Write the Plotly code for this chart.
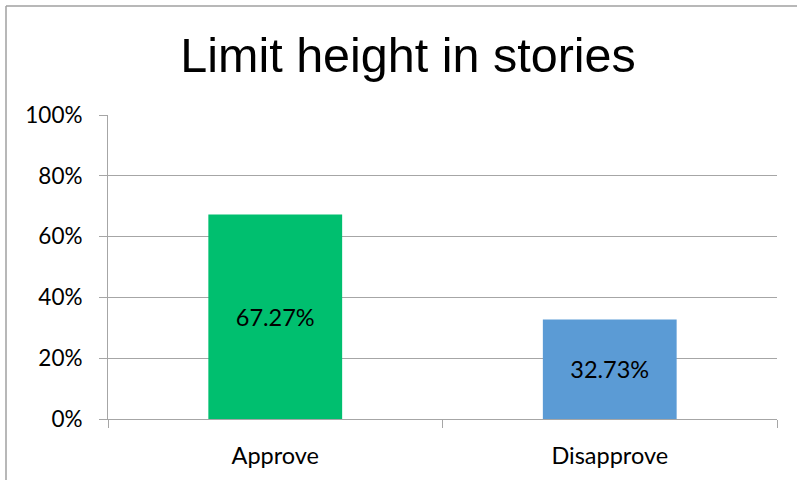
import plotly.graph_objects as go

categories = ["Approve", "Disapprove"]
values = [67.27, 32.73]
labels = ["67.27%", "32.73%"]
colors = ["#00BF6F", "#5B9BD5"]
tick_vals = [0, 20, 40, 60, 80, 100]
tick_text = ["0%", "20%", "40%", "60%", "80%", "100%"]

W, H = 797, 480
ML, MR, MT, MB = 108, 20, 115, 61
pw, ph = W - ML - MR, H - MT - MB

fig = go.Figure()
fig.add_trace(go.Bar(
    x=categories, y=values, text=labels, textposition="inside",
    insidetextanchor="middle", textangle=0,
    textfont=dict(family="Lato", size=23.5, color="#000000"),
    marker=dict(color=colors, line=dict(width=0)),
    hoverinfo="skip",
))

fig.update_layout(
    width=W, height=H,
    margin=dict(l=ML, r=MR, t=MT, b=MB),
    paper_bgcolor="white", plot_bgcolor="white",
    bargap=0.6,
    showlegend=False,
    title=dict(text="Limit height in stories", x=0.512, xanchor="center",
               y=1 - 55 / H, yanchor="middle",
               font=dict(family="Liberation Sans", size=48.5, color="#000000")),
    uniformtext=dict(mode=False),
)
fig.update_xaxes(
    showline=True, linecolor="#A6A6A6", linewidth=1,
    ticks="outside", tickson="boundaries", ticklen=8, tickcolor="#A6A6A6",
    tickfont=dict(family="Lato", size=23.5, color="#000000"),
    showgrid=False, ticklabelstandoff=16,
)
fig.update_yaxes(
    range=[0, 100], tickvals=tick_vals, ticktext=tick_text,
    showline=True, linecolor="#A6A6A6", linewidth=1,
    ticks="outside", ticklen=8, tickcolor="#A6A6A6",
    showgrid=True, gridcolor="#A6A6A6", gridwidth=1,
    tickfont=dict(family="Lato", size=22.5, color="#000000"),
    ticklabelstandoff=12, zeroline=False,
)
# chart-area border (top and left edges visible in reference)
x0 = (6 - ML) / pw
y1 = (H - MB - 6) / ph
fig.add_shape(type="line", xref="paper", yref="paper", x0=x0, x1=x0,
              y0=(H - MB - H - 10) / ph, y1=y1, line=dict(color="#A0A0A0", width=1.5))
fig.add_shape(type="line", xref="paper", yref="paper", x0=x0, x1=(W + 10 - ML) / pw,
              y0=y1, y1=y1, line=dict(color="#A0A0A0", width=1.5))

fig.write_html("out.html")
